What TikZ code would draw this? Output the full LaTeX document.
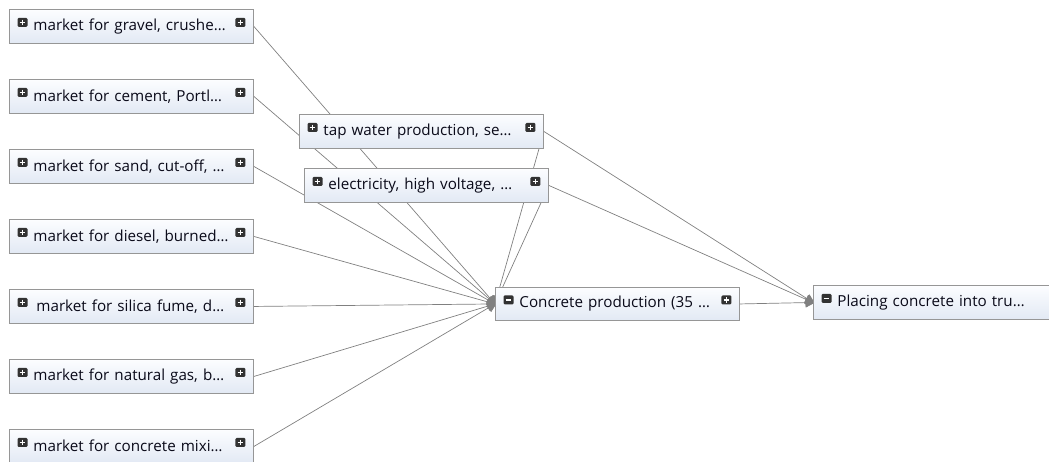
\documentclass[tikz,border=0pt]{standalone}
\usepackage{fontspec}
\setmainfont{Open Sans}
\usetikzlibrary{arrows.meta,backgrounds}
\definecolor{boxborder}{RGB}{150,150,150}
\definecolor{boxtop}{RGB}{252,253,255}
\definecolor{boxbot}{RGB}{226,233,244}
\definecolor{edgecol}{RGB}{128,128,128}
\definecolor{iconcol}{RGB}{50,50,50}
\definecolor{txtcol}{RGB}{10,10,25}
\newcommand{\lbl}[1]{\raisebox{2.5pt}{#1}}
\tikzset{
  procbox/.style={draw=boxborder, line width=0.9pt, top color=boxtop, bottom color=boxbot,
    anchor=north west, minimum width=244, minimum height=34, inner sep=0pt,
    text width=196, align=left, text=txtcol,
    font=\fontsize{15.2}{17}\selectfont},
  flow/.style={draw=edgecol, line width=0.7pt, -{Triangle[length=10pt,width=10pt,round]}, shorten >=-2pt},
  plusicon/.pic={
    \fill[iconcol, rounded corners=1.2pt] (-5,-4.5) rectangle (5,4.5);
    \draw[white, line width=1.5pt] (-2.8,0) -- (2.8,0) (0,-2.8) -- (0,2.8);
  },
  minusicon/.pic={
    \fill[iconcol, rounded corners=1.2pt] (-5,-4.5) rectangle (5,4.5);
    \draw[white, line width=1.5pt] (-2.8,0) -- (2.8,0);
  }
}
\begin{document}
\begin{tikzpicture}[x=1pt, y=-1pt]
\useasboundingbox (0,0) rectangle (1049,462);
\clip (0,0) rectangle (1049,462);

\node[procbox] (gravel) at (9,9)   {\lbl{market for gravel, crushe…}};
\node[procbox] (cement) at (9,79)  {\lbl{market for cement, Portl…}};
\node[procbox] (sand)   at (9,149) {\lbl{market for sand, cut-off, …}};
\node[procbox] (diesel) at (9,219) {\lbl{market for diesel, burned…}};
\node[procbox] (silica) at (9,289) {\lbl{\hspace{3pt}market for silica fume, d…}};
\node[procbox] (gas)    at (9,359) {\lbl{market for natural gas, b…}};
\node[procbox] (mixing) at (9,429) {\lbl{market for concrete mixi…}};
\node[procbox] (tap)    at (299,114) {\lbl{tap water production, se…}};
\node[procbox] (elec)   at (304,168) {\lbl{electricity, high voltage, …}};
\node[procbox, minimum height=33] (conc) at (495,287) {\lbl{Concrete production (35 …}};
\node[procbox] (place)  at (813,285) {\lbl{Placing concrete into tru…}};

\foreach \n in {gravel,cement,sand,diesel,silica,gas,mixing,tap,elec} {
  \pic at ([xshift=13.5pt, yshift=4pt] \n.west) {plusicon};
  \pic at ([xshift=-13.5pt, yshift=4pt] \n.east) {plusicon};
}
\pic at ([xshift=13.5pt, yshift=4pt] conc.west) {minusicon};
\pic at ([xshift=-13.5pt, yshift=4pt] conc.east) {plusicon};
\pic at ([xshift=13.5pt, yshift=4pt] place.west) {minusicon};

\begin{pgfonlayer}{background}
\foreach \n in {gravel,cement,sand,diesel,silica,gas,mixing,tap,elec} {
  \draw[flow] (\n.east) -- (conc.west);
}
\draw[flow] (tap.east) -- (place.west);
\draw[flow] (elec.east) -- (place.west);
\draw[flow] (conc.east) -- (place.west);
\end{pgfonlayer}
\end{tikzpicture}
\end{document}
